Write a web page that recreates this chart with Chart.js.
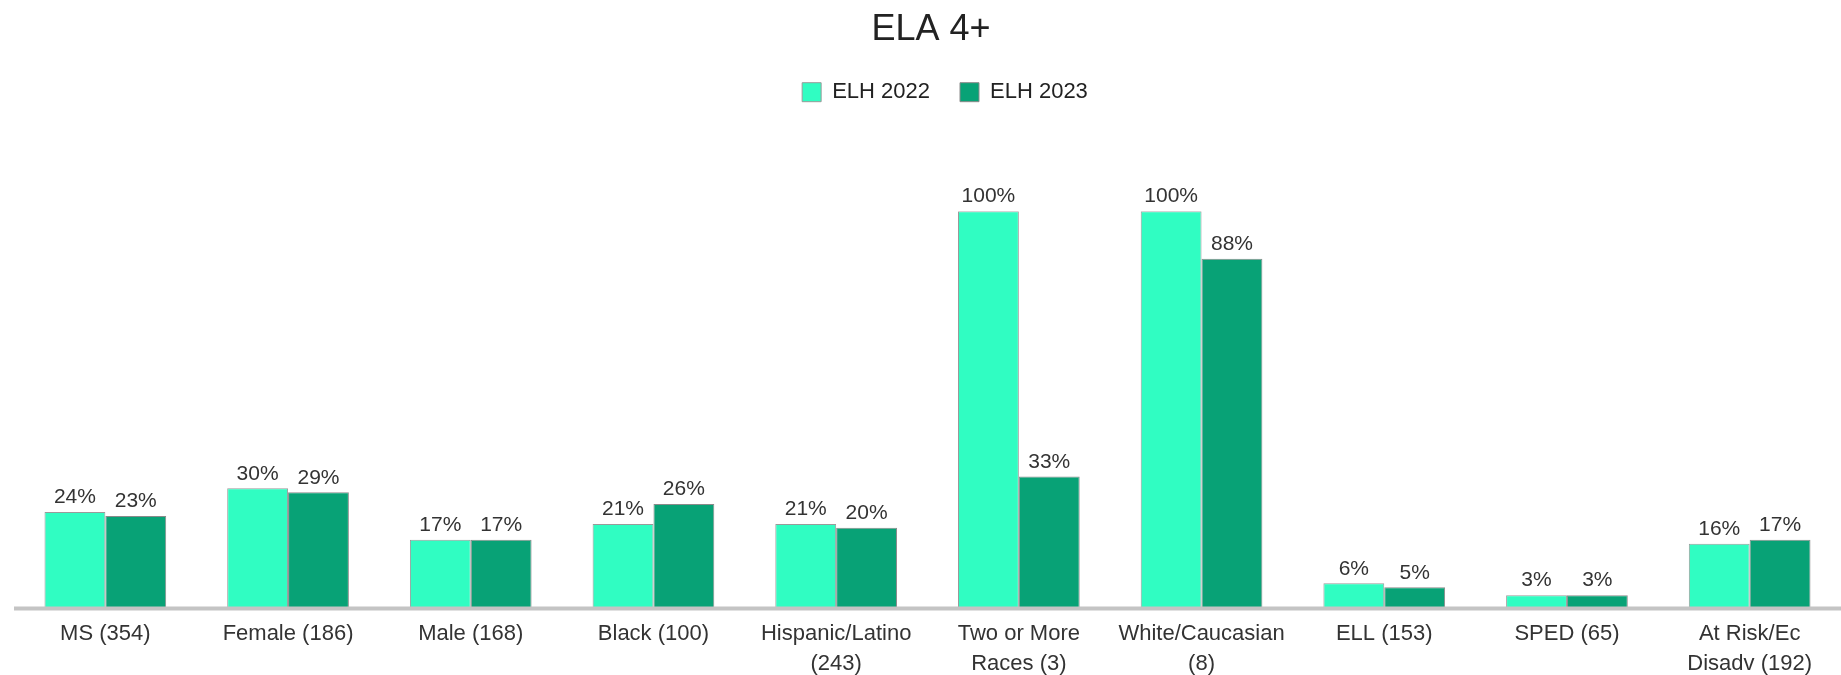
<!DOCTYPE html>
<html>
<head>
<meta charset="utf-8">
<title>ELA 4+</title>
<script src="https://cdn.jsdelivr.net/npm/chart.js@4"></script>
<style>
  html, body { margin: 0; padding: 0; background: #fff; }
  #wrap { width: 1841px; height: 675px; }
</style>
</head>
<body>
<div id="wrap"><canvas id="myChart" width="1841" height="675"></canvas></div>
<script>
// data
const categories = [
    'MS (354)',
    'Female (186)',
    'Male (168)',
    'Black (100)',
    ['Hispanic/Latino', '(243)'],
    ['Two or More', 'Races (3)'],
    ['White/Caucasian', '(8)'],
    'ELL (153)',
    'SPED (65)',
    ['At Risk/Ec', 'Disadv (192)']
];
const elh2022 = [24, 30, 17, 21, 21, 100, 100, 6, 3, 16];
const elh2023 = [23, 29, 17, 26, 20, 33, 88, 5, 3, 17];

const FONT = '"Liberation Sans", Arial, sans-serif';

// percent labels over each bar
const barLabels = {
    id: 'barLabels',
    afterDatasetsDraw(chart) {
        const ctx = chart.ctx;
        ctx.save();
        ctx.font = '21px ' + FONT;
        ctx.fillStyle = '#333';
        ctx.textAlign = 'center';
        ctx.textBaseline = 'bottom';
        chart.data.datasets.forEach((ds, i) => {
            chart.getDatasetMeta(i).data.forEach((bar, j) => {
                ctx.fillText(ds.data[j] + '%', bar.x, bar.y - 4);
            });
        });
        ctx.restore();
    }
};

// grey base line running to the right edge
const baseLine = {
    id: 'baseLine',
    afterDatasetsDraw(chart) {
        const ctx = chart.ctx;
        const y = chart.chartArea.bottom + 1.5;
        ctx.save();
        ctx.strokeStyle = '#c4c4c4';
        ctx.lineWidth = 4;
        ctx.beginPath();
        ctx.moveTo(14, y);
        ctx.lineTo(chart.width, y);
        ctx.stroke();
        ctx.restore();
    }
};

// extra room under the legend so the tall bars start lower,
// and nudge the legend a bit right like the original
const legendGap = {
    id: 'legendGap',
    beforeInit(chart) {
        const fit = chart.legend.fit;
        chart.legend.fit = function () {
            fit.call(this);
            this.height += 98;
        };
    },
    afterLayout(chart) {
        chart.legend.left += 14;
        chart.legend.right += 14;
    }
};

const ctx = document.getElementById('myChart').getContext('2d');
new Chart(ctx, {
    type: 'bar',
    data: {
        labels: categories,
        datasets: [
            {
                label: 'ELH 2022',
                data: elh2022,
                backgroundColor: '#30fdc2',
                borderColor: '#9a9a9a',
                borderWidth: 1,
                barPercentage: 1,
                categoryPercentage: 0.666
            },
            {
                label: 'ELH 2023',
                data: elh2023,
                backgroundColor: '#08a276',
                borderColor: '#8a8a8a',
                borderWidth: 1,
                barPercentage: 1,
                categoryPercentage: 0.666
            }
        ]
    },
    options: {
        responsive: false,
        animation: false,
        // the plot runs slightly past the right edge in the original
        layout: { padding: { top: 0, left: 14, right: -7, bottom: 0 } },
        plugins: {
            title: {
                display: true,
                text: 'ELA 4+',
                color: '#222',
                font: { family: FONT, size: 36, weight: 'normal' },
                padding: { top: 8, bottom: 0 }
            },
            legend: {
                display: true,
                labels: {
                    color: '#222',
                    font: { family: FONT, size: 22 },
                    boxWidth: 19,
                    boxHeight: 19,
                    padding: 30
                }
            },
            tooltip: { enabled: false }
        },
        scales: {
            x: {
                grid: { display: false, drawTicks: false },
                border: { display: false },
                ticks: {
                    color: '#333',
                    font: { family: FONT, size: 22, lineHeight: 1.36 },
                    padding: 12,
                    maxRotation: 0,
                    autoSkip: false
                },
                afterFit(scale) { scale.height = 68; }
            },
            y: {
                display: false,
                min: 0,
                max: 100
            }
        }
    },
    plugins: [legendGap, barLabels, baseLine]
});
</script>
</body>
</html>
